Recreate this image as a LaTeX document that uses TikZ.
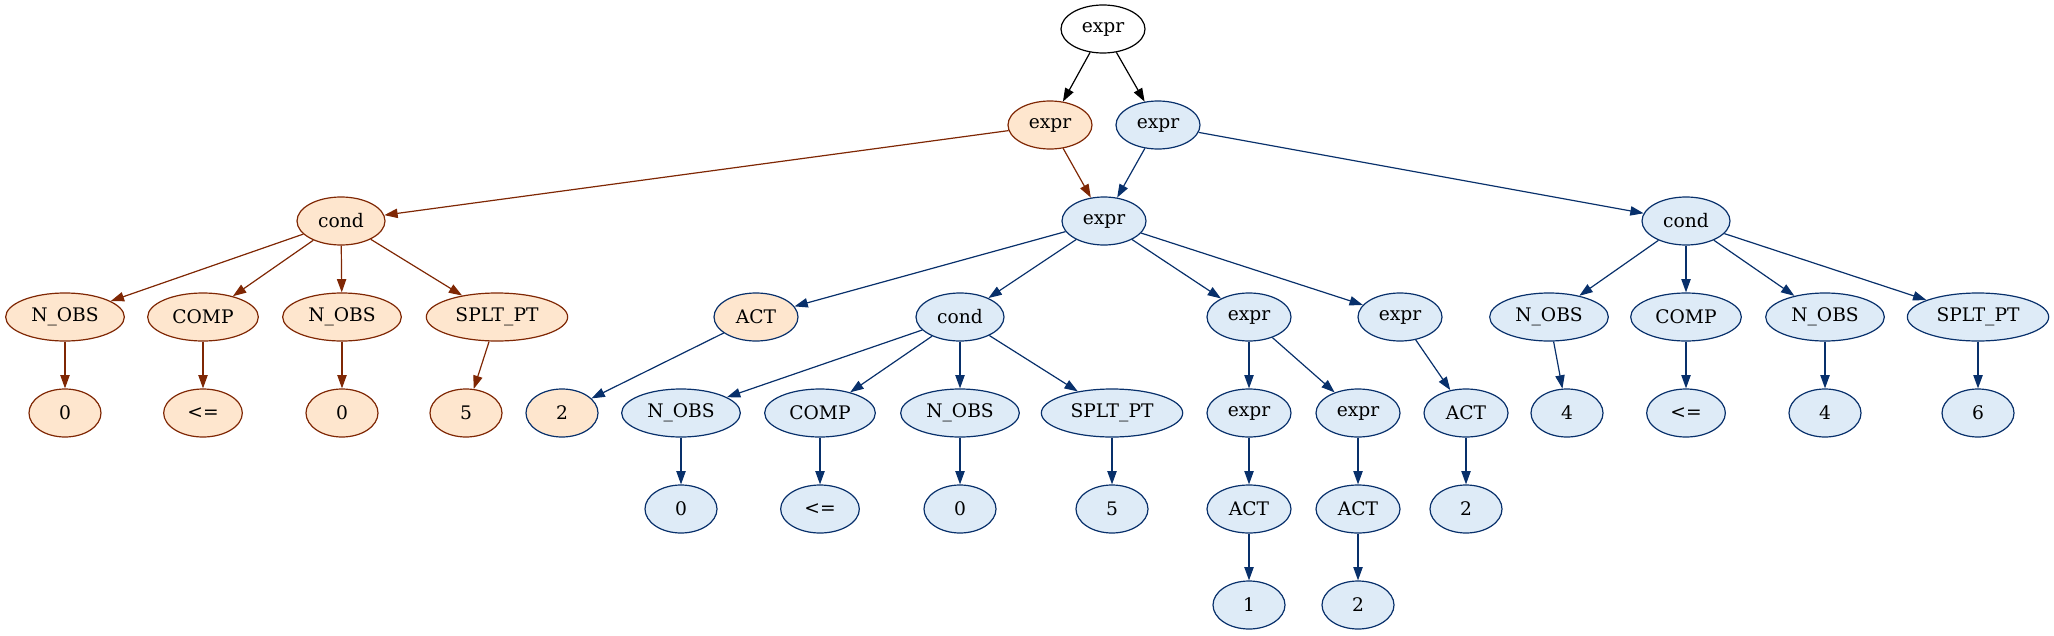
\documentclass[tikz,border=0pt]{standalone}
\usepackage{fontspec}
\setmainfont{DejaVu Serif}
\usetikzlibrary{shapes.geometric,arrows.meta}
\definecolor{ofill}{HTML}{FEE6CE}
\definecolor{ostroke}{HTML}{7F2704}
\definecolor{bfill}{HTML}{DEEBF7}
\definecolor{bstroke}{HTML}{08306B}
\begin{document}
\begin{tikzpicture}[x=0.75pt,y=-0.75pt,
  nd/.style={ellipse,draw,line width=0.9pt,inner sep=0pt,minimum height=36pt,font=\fontsize{14}{16}\selectfont},
  onode/.style={nd,fill=ofill,draw=ostroke},
  bnode/.style={nd,fill=bfill,draw=bstroke},
  obnode/.style={nd,fill=ofill,draw=bstroke},
  knode/.style={nd,fill=white,draw=black},
  wexpr/.style={minimum width=63pt},
  wcond/.style={minimum width=66pt},
  wnobs/.style={minimum width=89pt},
  wcomp/.style={minimum width=83pt},
  wsplt/.style={minimum width=106pt},
  wdig/.style={minimum width=54pt},
  wle/.style={minimum width=59pt},
  tip/.style={-{Triangle[length=10pt,width=7pt]},line width=0.9pt},
  oe/.style={tip,draw=ostroke},
  be/.style={tip,draw=bstroke},
  ke/.style={tip,draw=black}]
\useasboundingbox (0,0) rectangle (2054,635);
% level 0
\node[knode,wexpr] (root) at (1103,29) {expr};
% level 1
\node[onode,wexpr] (o1) at (1050,125) {expr};
\node[bnode,wexpr] (b1) at (1158,125) {expr};
% level 2
\node[onode,wcond] (ocond) at (341,221) {cond};
\node[bnode,wexpr] (mexpr) at (1104,221) {expr};
\node[bnode,wcond] (rcond) at (1686,221) {cond};
% level 3
\node[onode,wnobs] (on1) at (65,317) {N\_OBS};
\node[onode,wcomp] (oc1) at (203,317) {COMP};
\node[onode,wnobs] (on2) at (342,317) {N\_OBS};
\node[onode,wsplt] (os1) at (497,317) {SPLT\_PT};
\node[obnode,wexpr] (act1) at (756,317) {ACT};
\node[bnode,wcond] (mcond) at (960,317) {cond};
\node[bnode,wexpr] (mx1) at (1249,317) {expr};
\node[bnode,wexpr] (mx2) at (1400,317) {expr};
\node[bnode,wnobs] (rn1) at (1549,317) {N\_OBS};
\node[bnode,wcomp] (rc) at (1686,317) {COMP};
\node[bnode,wnobs] (rn2) at (1825,317) {N\_OBS};
\node[bnode,wsplt] (rs) at (1978,317) {SPLT\_PT};
% level 4
\node[onode,wdig] (o0a) at (65,413) {0};
\node[onode,wle] (ole) at (203,413) {<=};
\node[onode,wdig] (o0b) at (342,413) {0};
\node[onode,wdig] (o5) at (466,413) {5};
\node[obnode,wdig] (two1) at (562,413) {2};
\node[bnode,wnobs] (mn1) at (681,413) {N\_OBS};
\node[bnode,wcomp] (mc) at (820,413) {COMP};
\node[bnode,wnobs] (mn2) at (960,413) {N\_OBS};
\node[bnode,wsplt] (ms) at (1112,413) {SPLT\_PT};
\node[bnode,wexpr] (e11) at (1249,413) {expr};
\node[bnode,wexpr] (e12) at (1358,413) {expr};
\node[bnode,wexpr] (act2) at (1466,413) {ACT};
\node[bnode,wdig] (r4a) at (1567,413) {4};
\node[bnode,wle] (rle) at (1686,413) {<=};
\node[bnode,wdig] (r4b) at (1825,413) {4};
\node[bnode,wdig] (r6) at (1978,413) {6};
% level 5
\node[bnode,wdig] (m0a) at (681,509) {0};
\node[bnode,wle] (mle) at (820,509) {<=};
\node[bnode,wdig] (m0b) at (960,509) {0};
\node[bnode,wdig] (m5) at (1112,509) {5};
\node[bnode,wexpr] (act11) at (1249,509) {ACT};
\node[bnode,wexpr] (act12) at (1358,509) {ACT};
\node[bnode,wdig] (two3) at (1466,509) {2};
% level 6
\node[bnode,wdig] (one) at (1249,605) {1};
\node[bnode,wdig] (two2) at (1358,605) {2};
% edges
\draw[ke] (root) -- (o1);
\draw[ke] (root) -- (b1);
\draw[oe] (o1) -- (ocond);
\draw[oe] (o1) -- (mexpr);
\draw[be] (b1) -- (mexpr);
\draw[be] (b1) -- (rcond);
\draw[oe] (ocond) -- (on1);
\draw[oe] (ocond) -- (oc1);
\draw[oe] (ocond) -- (on2);
\draw[oe] (ocond) -- (os1);
\draw[oe] (on1) -- (o0a);
\draw[oe] (oc1) -- (ole);
\draw[oe] (on2) -- (o0b);
\draw[oe] (os1) -- (o5);
\draw[be] (mexpr) -- (act1);
\draw[be] (mexpr) -- (mcond);
\draw[be] (mexpr) -- (mx1);
\draw[be] (mexpr) -- (mx2);
\draw[be] (act1) -- (two1);
\draw[be] (mcond) -- (mn1);
\draw[be] (mcond) -- (mc);
\draw[be] (mcond) -- (mn2);
\draw[be] (mcond) -- (ms);
\draw[be] (mn1) -- (m0a);
\draw[be] (mc) -- (mle);
\draw[be] (mn2) -- (m0b);
\draw[be] (ms) -- (m5);
\draw[be] (mx1) -- (e11);
\draw[be] (mx1) -- (e12);
\draw[be] (e11) -- (act11);
\draw[be] (e12) -- (act12);
\draw[be] (act11) -- (one);
\draw[be] (act12) -- (two2);
\draw[be] (mx2) -- (act2);
\draw[be] (act2) -- (two3);
\draw[be] (rcond) -- (rn1);
\draw[be] (rcond) -- (rc);
\draw[be] (rcond) -- (rn2);
\draw[be] (rcond) -- (rs);
\draw[be] (rn1) -- (r4a);
\draw[be] (rc) -- (rle);
\draw[be] (rn2) -- (r4b);
\draw[be] (rs) -- (r6);
\end{tikzpicture}
\end{document}
